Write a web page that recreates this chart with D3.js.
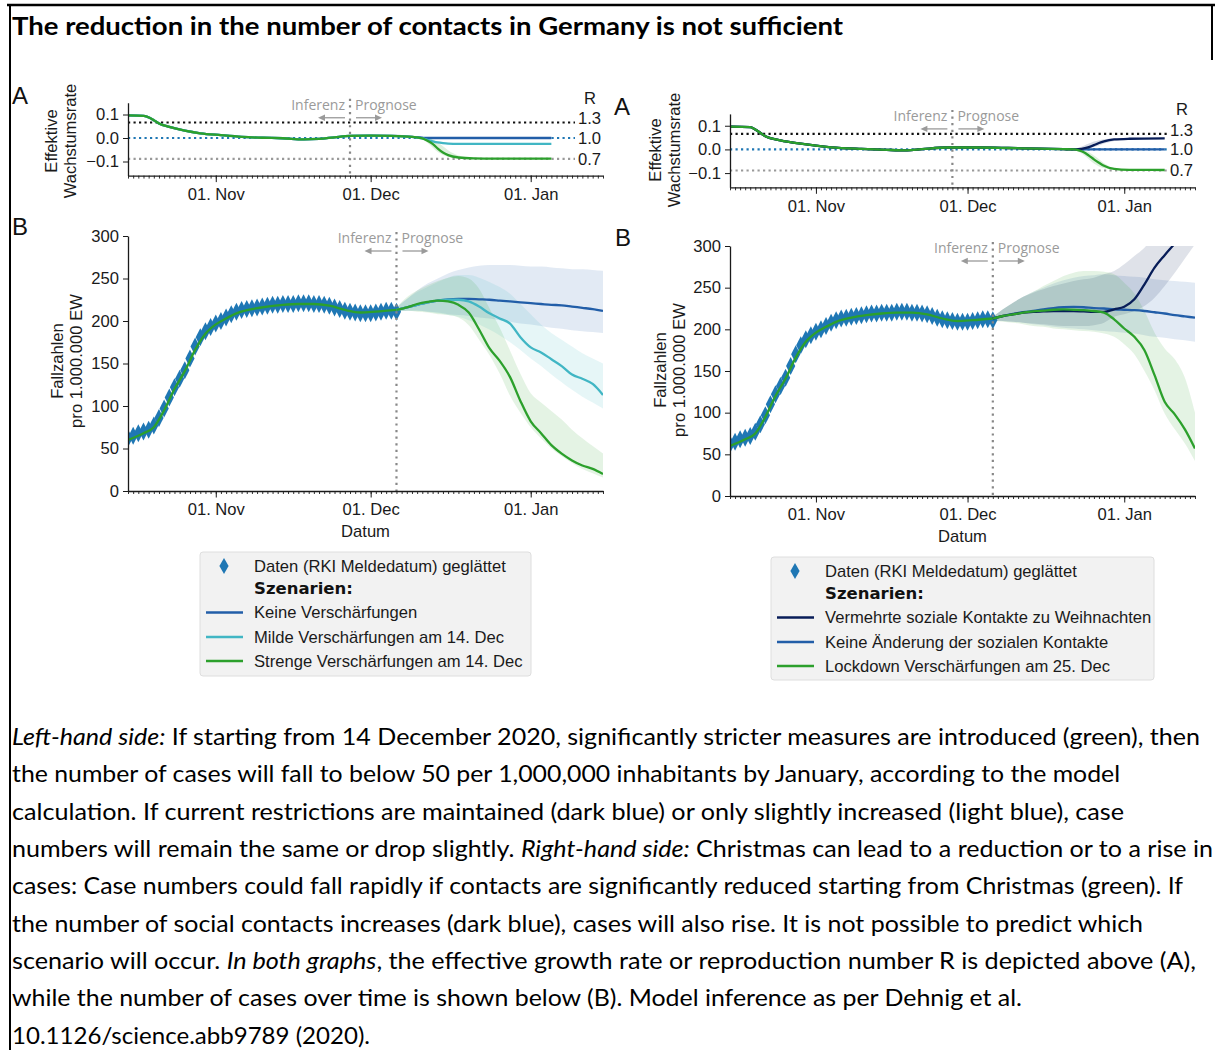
<!DOCTYPE html>
<html>
<head>
<meta charset="utf-8">
<title>Kontaktreduktion Szenarien</title>
<script src="https://cdn.jsdelivr.net/npm/d3@7"></script>
<style>
  body { margin: 0; background: #fff; }
  svg { display: block; }
</style>
</head>
<body>
<svg id="figure" width="1215" height="1050"></svg>
<script>
const svg = d3.select("#figure");
const parseDate = d3.utcParse("%Y-%m-%d");
const formatTick = d3.utcFormat("%d. %b");

// ---------- data ----------
const axisStart = "2020-10-15";
const axisEnd = "2021-01-15";

// RKI cases per 1,000,000 (smoothed), one value per day from 15 Oct to 6 Dec
const rkiStart = "2020-10-15";
const rkiCases = [62, 65, 68, 70, 72, 77, 86, 97, 110, 122, 132, 142, 156, 170, 181, 188, 193, 197, 200, 204,
  208, 211, 213, 214, 215, 216, 217, 218, 219, 219, 220, 220, 220, 221, 221, 221, 220, 220, 219, 218,
  216, 214, 212, 211, 210, 209, 209, 209, 210, 211, 212, 212, 211];

// model fit in the inference period
const fitDates = ["2020-10-15", "2020-10-18", "2020-10-20", "2020-10-22", "2020-10-24", "2020-10-26", "2020-10-28",
  "2020-10-30", "2020-11-01", "2020-11-03", "2020-11-05", "2020-11-08", "2020-11-11", "2020-11-14", "2020-11-17",
  "2020-11-20", "2020-11-23", "2020-11-26", "2020-11-29", "2020-12-02", "2020-12-06"];
const fitCases = [60, 68, 75, 95, 120, 141, 166, 185, 196, 203, 209, 214, 217, 219, 220, 220, 218, 213, 210, 211, 213];

// forecast grid (every 2 days from 6 Dec)
const fcDates = ["2020-12-06", "2020-12-08", "2020-12-10", "2020-12-12", "2020-12-14", "2020-12-16", "2020-12-18",
  "2020-12-20", "2020-12-22", "2020-12-24", "2020-12-26", "2020-12-28", "2020-12-30", "2021-01-01", "2021-01-03",
  "2021-01-05", "2021-01-07", "2021-01-09", "2021-01-11", "2021-01-13", "2021-01-15"];

// left: Keine / Milde / Strenge Verschärfungen
const keineL   = [213, 216, 219, 222, 224, 225.5, 226, 226, 225.5, 225, 224, 223, 222, 221, 220, 219, 218.5, 217, 215.5, 214, 212];
const keineLHi = [216, 226, 236, 244, 250, 256, 260, 263, 265, 266, 266, 266, 265, 264, 264, 263, 262, 261, 261, 260, 259];
const keineLLo = [211, 212, 212, 211, 210, 208, 207, 206, 204, 203, 201, 199, 197, 196, 194, 192, 191, 189, 188, 187, 186];
const mildeL   = [213, 216, 219, 222, 224, 225, 225, 223, 217, 209, 203, 197, 181, 169, 163, 155, 147, 137, 132, 126, 113];
const mildeLHi = [216, 226, 234, 240, 246, 251, 254, 254, 251, 246, 240, 232, 220, 208, 196, 186, 178, 170, 162, 156, 150];
const mildeLLo = [211, 212, 212, 211, 209, 207, 205, 201, 196, 190, 183, 175, 166, 156, 147, 137, 128, 119, 111, 104, 97];
const strengL   = [213, 216, 220, 222.5, 224, 223, 219, 210, 190, 168, 153, 134, 106, 82, 68, 54, 44, 36, 30, 26, 20];
const strengLHi = [216, 228, 236, 242, 247, 251, 253, 250, 238, 215, 192, 165, 138, 115, 104, 94, 84, 72, 62, 53, 44];
const strengLLo = [211, 212, 211, 210, 208, 207, 204, 195, 178, 160, 138, 112, 92, 75, 62, 50, 41, 33, 26, 21, 16];

// right: Vermehrte Kontakte / Keine Änderung / Lockdown
const keineR   = [213, 216, 218.5, 220.5, 222, 224, 225.5, 226.5, 227, 226.5, 225.5, 225, 224, 223.5, 223, 222, 220.5, 219, 217, 215.5, 214];
const keineRHi = [215, 224, 232, 239, 245, 250, 255, 259, 262, 264, 265, 266, 265, 264, 263, 262, 260, 259, 258, 257, 256];
const keineRLo = [211, 210, 209, 208, 206, 205, 203, 202, 201, 200, 199, 198, 197, 196, 195, 193, 191, 190, 188, 187, 185];
const moreR   = [213, 216, 218, 220, 221, 221.5, 222, 222, 222, 221.5, 221, 221, 224, 227, 236, 254, 274, 289, 303, 318, 333];
const moreRHi = [215, 224, 232, 239, 244, 248, 252, 255, 258, 260, 262, 266, 270, 278, 288, 298, 312, 330, 350, 370, 390];
const moreRLo = [211, 210, 209, 208, 207, 206, 205, 204, 204, 204, 205, 208, 215, 218, 222, 228, 238, 252, 268, 285, 302];
const lockR   = [213, 216, 218, 220, 221.5, 222.5, 223.5, 224, 223.5, 223, 222, 220, 212, 201, 191, 175, 145, 113, 98, 80, 57];
const lockRHi = [215, 224, 232, 239, 245, 252, 258, 264, 268, 270, 270, 269, 266, 256, 243, 222, 196, 177, 164, 142, 100];
const lockRLo = [211, 209, 208, 206, 204, 203, 201, 200, 199, 198, 197, 195, 191, 182, 170, 150, 127, 99, 80, 63, 42];

// effective growth rate, left panel
const rateDatesL = ["2020-10-15", "2020-10-18", "2020-10-20", "2020-10-21", "2020-10-23", "2020-10-26", "2020-10-29",
  "2020-11-02", "2020-11-06", "2020-11-10", "2020-11-14", "2020-11-18", "2020-11-21", "2020-11-24", "2020-11-27",
  "2020-12-01", "2020-12-05", "2020-12-09", "2020-12-11", "2020-12-12", "2020-12-13", "2020-12-14", "2020-12-15",
  "2020-12-16", "2020-12-18", "2020-12-21", "2020-12-25", "2020-12-30", "2021-01-05"];
const rateKeineL = [0.096, 0.094, 0.076, 0.062, 0.047, 0.031, 0.02, 0.012, 0.005, 0.001, -0.001, -0.006, -0.004, 0.003, 0.009,
  0.01, 0.009, 0.005, 0.001, 0, 0, 0, 0, 0, 0, 0, 0, 0, 0];
const rateMildeL = [0.096, 0.094, 0.076, 0.062, 0.047, 0.031, 0.02, 0.012, 0.005, 0.001, -0.001, -0.006, -0.004, 0.003, 0.009,
  0.01, 0.009, 0.005, -0.002, -0.008, -0.014, -0.019, -0.022, -0.024, -0.025, -0.025, -0.025, -0.025, -0.025];
const rateStrengL = [0.096, 0.094, 0.076, 0.062, 0.047, 0.031, 0.02, 0.012, 0.005, 0.001, -0.001, -0.006, -0.004, 0.003, 0.009,
  0.01, 0.009, 0.005, -0.002, -0.012, -0.025, -0.045, -0.062, -0.073, -0.083, -0.087, -0.088, -0.088, -0.088];
const rateStrengLHi = [0.1, 0.098, 0.084, 0.068, 0.051, 0.034, 0.022, 0.013, 0.006, 0.002, 0, -0.005, -0.003, 0.004, 0.01,
  0.011, 0.01, 0.007, 0.003, 0, -0.006, -0.018, -0.035, -0.052, -0.074, -0.085, -0.087, -0.087, -0.087];
const rateStrengLLo = [0.092, 0.09, 0.068, 0.056, 0.043, 0.028, 0.018, 0.011, 0.004, 0, -0.002, -0.007, -0.005, 0.002, 0.008,
  0.009, 0.008, 0.003, -0.005, -0.02, -0.04, -0.06, -0.072, -0.08, -0.086, -0.089, -0.089, -0.089, -0.089];

// effective growth rate, right panel
const rateDatesR = ["2020-10-15", "2020-10-19", "2020-10-20", "2020-10-22", "2020-10-25", "2020-10-29", "2020-11-04",
  "2020-11-10", "2020-11-15", "2020-11-19", "2020-11-22", "2020-11-27", "2020-12-03", "2020-12-09", "2020-12-15",
  "2020-12-20", "2020-12-22", "2020-12-23", "2020-12-24", "2020-12-25", "2020-12-26", "2020-12-27", "2020-12-28",
  "2020-12-30", "2021-01-02", "2021-01-09"];
const rateKeineR = [0.096, 0.094, 0.084, 0.056, 0.038, 0.024, 0.009, 0.002, -0.002, -0.004, 0.001, 0.008, 0.008, 0.006, 0.003,
  0.001, 0, 0, 0, 0, 0, 0, 0, 0, 0, 0];
const rateMoreR = [0.096, 0.094, 0.084, 0.056, 0.038, 0.024, 0.009, 0.002, -0.002, -0.004, 0.001, 0.008, 0.008, 0.006, 0.003,
  0.001, 0, 0.001, 0.004, 0.01, 0.018, 0.027, 0.034, 0.042, 0.045, 0.047];
const rateMoreRHi = [0.1, 0.098, 0.09, 0.062, 0.042, 0.027, 0.011, 0.004, 0, -0.002, 0.003, 0.01, 0.01, 0.008, 0.005,
  0.003, 0.003, 0.008, 0.016, 0.025, 0.033, 0.039, 0.043, 0.046, 0.048, 0.049];
const rateMoreRLo = [0.092, 0.09, 0.078, 0.05, 0.034, 0.021, 0.007, 0, -0.004, -0.006, -0.001, 0.006, 0.006, 0.004, 0.001,
  -0.001, -0.002, -0.002, 0, 0.004, 0.01, 0.017, 0.025, 0.036, 0.043, 0.045];
const rateLockR = [0.096, 0.094, 0.084, 0.056, 0.038, 0.024, 0.009, 0.002, -0.002, -0.004, 0.001, 0.008, 0.008, 0.006, 0.003,
  0.001, 0, -0.004, -0.012, -0.026, -0.042, -0.056, -0.069, -0.082, -0.086, -0.087];
const rateLockRHi = [0.1, 0.098, 0.09, 0.062, 0.042, 0.027, 0.011, 0.004, 0, -0.002, 0.003, 0.01, 0.01, 0.008, 0.005,
  0.003, 0.002, 0, -0.004, -0.012, -0.026, -0.042, -0.058, -0.078, -0.085, -0.086];
const rateLockRLo = [0.092, 0.09, 0.078, 0.05, 0.034, 0.021, 0.007, 0, -0.004, -0.006, -0.001, 0.006, 0.006, 0.004, 0.001,
  -0.001, -0.003, -0.01, -0.024, -0.042, -0.06, -0.072, -0.08, -0.086, -0.088, -0.088];

// reference R values and their growth rates
const rLabels = ["1.3", "1.0", "0.7"];
const rRates = [0.066, 0.0, -0.089];

const rateTicks = [-0.1, 0, 0.1];
const caseTicks = [0, 50, 100, 150, 200, 250, 300];

const legendLeft = ["Keine Verschärfungen", "Milde Verschärfungen am 14. Dec", "Strenge Verschärfungen am 14. Dec"];
const legendRight = ["Vermehrte soziale Kontakte zu Weihnachten", "Keine Änderung der sozialen Kontakte", "Lockdown Verschärfungen am 25. Dec"];

const titleText = "The reduction in the number of contacts in Germany is not sufficient";
const captionLines = [
  [["Left-hand side:", true], [" If starting from 14 December 2020, significantly stricter measures are introduced (green), then", false]],
  [["the number of cases will fall to below 50 per 1,000,000 inhabitants by January, according to the model", false]],
  [["calculation. If current restrictions are maintained (dark blue) or only slightly increased (light blue), case", false]],
  [["numbers will remain the same or drop slightly. ", false], ["Right-hand side:", true], [" Christmas can lead to a reduction or to a rise in", false]],
  [["cases: Case numbers could fall rapidly if contacts are significantly reduced starting from Christmas (green). If", false]],
  [["the number of social contacts increases (dark blue), cases will also rise. It is not possible to predict which", false]],
  [["scenario will occur. ", false], ["In both graphs", true], [", the effective growth rate or reproduction number R is depicted above (A),", false]],
  [["while the number of cases over time is shown below (B). Model inference as per Dehnig et al.", false]],
  [["10.1126/science.abb9789 (2020).", false]]
];

// ---------- styles / layout ----------
const AXIS_FONT = "'Liberation Sans', Arial, Helvetica, sans-serif";
const AXIS_SIZE = 16.6;
const NOTE_FONT = "'Open Sans', 'DejaVu Sans', sans-serif";
const TEXT_FONT = "Lato, 'Noto Sans', sans-serif";
const C = { data: "#1f77b4", keine: "#225ea8", milde: "#41b6c4", navy: "#081d58", green: "#2ca02c" };
const BAND_OPACITY = 0.13;
const DIA_W = 4.6, DIA_H = 9;
const R_LABEL_SHIFT = [-4, 0, 0];   // vertical nudge of the R labels, px
const captionWidths = [1188, 1108, 1112, 1201, 1171, 1131, 1184, 1010, 358];

const zip = (dates, values) => dates.map((d, i) => ({ date: parseDate(d), v: values[i] }));
const zipBand = (dates, hi, lo) => dates.map((d, i) => ({ date: parseDate(d), hi: hi[i], lo: lo[i] }));
const rkiSeries = rkiCases.map((v, i) => ({ date: d3.utcDay.offset(parseDate(rkiStart), i), v }));
const fitSeries = zip(fitDates, fitCases);

svg.append("rect").attr("width", 1215).attr("height", 1050).attr("fill", "#fff");

// frame
svg.append("line").attr("x1", 7).attr("x2", 1215).attr("y1", 5).attr("y2", 5).attr("stroke", "#000").attr("stroke-width", 2.5);
svg.append("line").attr("x1", 10).attr("x2", 10).attr("y1", 4).attr("y2", 1050).attr("stroke", "#000").attr("stroke-width", 2);
svg.append("line").attr("x1", 1212).attr("x2", 1212).attr("y1", 4).attr("y2", 60).attr("stroke", "#000").attr("stroke-width", 2);

svg.append("text")
    .attr("x", 12).attr("y", 35)
    .attr("font-family", TEXT_FONT).attr("font-weight", "bold").attr("font-size", 25)
    .attr("textLength", 831).attr("lengthAdjust", "spacingAndGlyphs")
    .text(titleText);

function makeX(p) {
  return d3.scaleUtc().domain([parseDate(axisStart), parseDate(axisEnd)]).range([p.x0, p.x1]);
}

function styleAxis(a) {
  a.attr("font-family", AXIS_FONT).attr("font-size", AXIS_SIZE);
  a.selectAll("text").attr("fill", "#1a1a1a");
  a.selectAll("line").attr("stroke", "#1a1a1a");
  a.select(".domain").attr("stroke", "#1a1a1a").attr("stroke-width", 1.3);
}

function drawXAxis(g, x, yPos) {
  const [d0, d1] = x.domain();
  g.append("g").attr("transform", `translate(0,${yPos})`)
      .call(d3.axisBottom(x).tickValues(d3.utcDay.range(d0, d3.utcDay.offset(d1, 1))).tickSize(3).tickFormat(""))
      .call(a => a.select(".domain").remove())
      .call(a => a.selectAll("line").attr("stroke", "#1a1a1a").attr("stroke-width", 0.9));
  g.append("g").attr("transform", `translate(0,${yPos})`)
      .call(d3.axisBottom(x).ticks(d3.utcMonth.every(1)).tickSize(6.5).tickPadding(6).tickSizeOuter(0).tickFormat(formatTick))
      .call(styleAxis);
}

function drawYAxis(g, y, xPos, ticks, fmt) {
  g.append("g").attr("transform", `translate(${xPos},0)`)
      .call(d3.axisLeft(y).tickValues(ticks).tickSize(5).tickPadding(4).tickSizeOuter(0).tickFormat(fmt))
      .call(styleAxis);
}

function yLabel(lines, cx, cy) {
  lines.forEach((t, i) => {
    svg.append("text")
        .attr("transform", `translate(${cx + i * 19},${cy}) rotate(-90)`)
        .attr("text-anchor", "middle").attr("dy", "0.35em")
        .attr("font-family", AXIS_FONT).attr("font-size", AXIS_SIZE).attr("fill", "#1a1a1a")
        .text(t);
  });
}

function panelLetter(t, x, y) {
  svg.append("text").attr("x", x).attr("y", y)
      .attr("font-family", AXIS_FONT).attr("font-size", 24).attr("fill", "#111").text(t);
}

function divider(g, x, p, date) {
  const xd = x(parseDate(date));
  g.append("line").attr("x1", xd).attr("x2", xd).attr("y1", p.yTop - 4).attr("y2", p.yBot)
      .attr("stroke", "#888").attr("stroke-width", 2.2).attr("stroke-dasharray", "2.2,4.4");
  const ty = p.yTop + 7;
  g.append("text").attr("x", xd - 5).attr("y", ty).attr("text-anchor", "end")
      .attr("font-family", NOTE_FONT).attr("font-size", 14).attr("fill", "#9a9a9a").text("Inferenz");
  g.append("text").attr("x", xd + 5).attr("y", ty).attr("text-anchor", "start")
      .attr("font-family", NOTE_FONT).attr("font-size", 14).attr("fill", "#9a9a9a").text("Prognose");
  const ay = p.yTop + 15;
  [[xd - 5, xd - 32], [xd + 6, xd + 32]].forEach(([a, b]) => {
    const s = Math.sign(b - a);
    g.append("line").attr("x1", a).attr("x2", b - s * 5).attr("y1", ay).attr("y2", ay)
        .attr("stroke", "#9a9a9a").attr("stroke-width", 1.3);
    g.append("path").attr("d", `M${b},${ay}L${b - s * 7},${ay - 3.2}L${b - s * 7},${ay + 3.2}Z`).attr("fill", "#9a9a9a");
  });
}

function drawRatePanel(p) {
  const g = svg.append("g");
  const x = makeX(p);
  const y = d3.scaleLinear().domain([-0.16, 0.15]).range([p.yBot, p.yTop]);
  const refEnd = p.x1 - 28;
  const refColors = ["#111", C.data, "#999"];
  rRates.forEach((r, i) => {
    g.append("line").attr("x1", p.x0).attr("x2", refEnd).attr("y1", y(r)).attr("y2", y(r))
        .attr("stroke", refColors[i]).attr("stroke-width", 2.2).attr("stroke-dasharray", "2.2,3.3");
    g.append("text").attr("x", refEnd + 3).attr("y", y(r) + R_LABEL_SHIFT[i]).attr("dy", "0.36em")
        .attr("font-family", AXIS_FONT).attr("font-size", AXIS_SIZE).attr("fill", "#1a1a1a").text(rLabels[i]);
  });
  g.append("text").attr("x", refEnd + 15).attr("y", p.yTop + 1).attr("text-anchor", "middle")
      .attr("font-family", AXIS_FONT).attr("font-size", AXIS_SIZE).attr("fill", "#1a1a1a").text("R");

  const area = d3.area().x(d => x(d.date)).y0(d => y(d.lo)).y1(d => y(d.hi)).curve(d3.curveMonotoneX);
  const line = d3.line().x(d => x(d.date)).y(d => y(d.v)).curve(d3.curveMonotoneX);
  p.bands.forEach(b => g.append("path").datum(zipBand(p.dates, b.hi, b.lo)).attr("d", area)
      .attr("fill", b.color).attr("fill-opacity", 0.16));
  p.lines.forEach(l => g.append("path").datum(zip(p.dates, l.values)).attr("d", line)
      .attr("fill", "none").attr("stroke", l.color).attr("stroke-width", 2.3));

  divider(g, x, p, p.divider);
  drawXAxis(g, x, p.yBot);
  drawYAxis(g, y, p.x0, rateTicks, d3.format(".1f"));
}

function drawCasePanel(p) {
  const g = svg.append("g");
  const x = makeX(p);
  const y = d3.scaleLinear().domain([0, 300]).range([p.yBot, p.yTop]);
  const clipId = "clip-" + p.id;
  svg.append("clipPath").attr("id", clipId).append("rect")
      .attr("x", p.x0).attr("y", p.yTop).attr("width", p.x1 - p.x0).attr("height", p.yBot - p.yTop);
  const plot = g.append("g").attr("clip-path", `url(#${clipId})`);

  const area = d3.area().x(d => x(d.date)).y0(d => y(d.lo)).y1(d => y(d.hi)).curve(d3.curveMonotoneX);
  const line = d3.line().x(d => x(d.date)).y(d => y(d.v)).curve(d3.curveMonotoneX);
  p.bands.forEach(b => plot.append("path").datum(zipBand(fcDates, b.hi, b.lo)).attr("d", area)
      .attr("fill", b.color).attr("fill-opacity", BAND_OPACITY));

  const diamond = `M0,${-DIA_H}L${DIA_W},0L0,${DIA_H}L${-DIA_W},0Z`;
  plot.append("g").selectAll("path").data(rkiSeries).join("path")
      .attr("d", diamond)
      .attr("transform", d => `translate(${x(d.date)},${y(d.v)})`)
      .attr("fill", C.data);

  plot.append("path").datum(fitSeries).attr("d", line)
      .attr("fill", "none").attr("stroke", C.green).attr("stroke-width", 2.3);
  p.lines.forEach(l => plot.append("path").datum(zip(fcDates, l.values)).attr("d", line)
      .attr("fill", "none").attr("stroke", l.color).attr("stroke-width", 2.3));

  divider(g, x, p, p.divider);
  drawXAxis(g, x, p.yBot);
  drawYAxis(g, y, p.x0, caseTicks, d3.format("d"));
  g.append("text").attr("x", (p.x0 + p.x1) / 2).attr("y", p.yBot + 46).attr("text-anchor", "middle")
      .attr("font-family", AXIS_FONT).attr("font-size", AXIS_SIZE).attr("fill", "#1a1a1a").text("Datum");
}

function drawLegend(box, labels, colors) {
  const g = svg.append("g").attr("transform", `translate(${box.x},${box.y})`);
  g.append("rect").attr("width", box.w).attr("height", box.h).attr("rx", 3)
      .attr("fill", "#f2f2f2").attr("stroke", "#dedede");
  const rows = [14, 36.5, 60.5, 85, 109];
  g.append("path").attr("d", `M0,${-8}L4.6,0L0,8L-4.6,0Z`).attr("transform", `translate(24,${rows[0]})`).attr("fill", C.data);
  g.append("text").attr("x", 54).attr("y", rows[0]).attr("dy", "0.35em")
      .attr("font-family", AXIS_FONT).attr("font-size", AXIS_SIZE).attr("fill", "#1a1a1a").text("Daten (RKI Meldedatum) geglättet");
  g.append("text").attr("x", 54).attr("y", rows[1]).attr("dy", "0.35em")
      .attr("font-family", "'DejaVu Sans', sans-serif").attr("font-weight", "bold").attr("font-size", 16.5)
      .attr("fill", "#111").text("Szenarien:");
  labels.forEach((t, i) => {
    const ry = rows[i + 2];
    g.append("line").attr("x1", 6).attr("x2", 43).attr("y1", ry).attr("y2", ry)
        .attr("stroke", colors[i]).attr("stroke-width", 2.3);
    g.append("text").attr("x", 54).attr("y", ry).attr("dy", "0.35em")
        .attr("font-family", AXIS_FONT).attr("font-size", AXIS_SIZE).attr("fill", "#1a1a1a").text(t);
  });
}

// ---------- panels ----------
drawRatePanel({
  x0: 128, x1: 603, yTop: 102.75, yBot: 175.6, divider: "2020-11-27", dates: rateDatesL,
  bands: [{ hi: rateStrengLHi, lo: rateStrengLLo, color: C.green }],
  lines: [{ values: rateKeineL, color: C.keine }, { values: rateMildeL, color: C.milde }, { values: rateStrengL, color: C.green }]
});
drawRatePanel({
  x0: 730, x1: 1195, yTop: 113.9, yBot: 187.3, divider: "2020-11-28", dates: rateDatesR,
  bands: [{ hi: rateMoreRHi, lo: rateMoreRLo, color: C.navy }, { hi: rateLockRHi, lo: rateLockRLo, color: C.green }],
  lines: [{ values: rateKeineR, color: C.keine }, { values: rateMoreR, color: C.navy }, { values: rateLockR, color: C.green }]
});

drawCasePanel({
  id: "lb", x0: 128, x1: 603, yTop: 236, yBot: 491, divider: "2020-12-06",
  bands: [{ hi: keineLHi, lo: keineLLo, color: C.keine }, { hi: mildeLHi, lo: mildeLLo, color: C.milde }, { hi: strengLHi, lo: strengLLo, color: C.green }],
  lines: [{ values: keineL, color: C.keine }, { values: mildeL, color: C.milde }, { values: strengL, color: C.green }]
});
drawCasePanel({
  id: "rb", x0: 730, x1: 1195, yTop: 246, yBot: 496, divider: "2020-12-06",
  bands: [{ hi: keineRHi, lo: keineRLo, color: C.keine }, { hi: moreRHi, lo: moreRLo, color: C.navy }, { hi: lockRHi, lo: lockRLo, color: C.green }],
  lines: [{ values: keineR, color: C.keine }, { values: moreR, color: C.navy }, { values: lockR, color: C.green }]
});

panelLetter("A", 12, 104);
panelLetter("B", 12, 235);
panelLetter("A", 614, 115);
panelLetter("B", 615, 246);

yLabel(["Effektive", "Wachstumsrate"], 51, 141);
yLabel(["Fallzahlen", "pro 1.000.000 EW"], 57, 361);
yLabel(["Effektive", "Wachstumsrate"], 655, 150);
yLabel(["Fallzahlen", "pro 1.000.000 EW"], 660, 370);

drawLegend({ x: 200, y: 552, w: 331, h: 124 }, legendLeft, [C.keine, C.milde, C.green]);
drawLegend({ x: 771, y: 557, w: 383, h: 123 }, legendRight, [C.navy, C.keine, C.green]);

// ---------- caption ----------
captionLines.forEach((segs, i) => {
  const t = svg.append("text")
      .attr("x", 12).attr("y", 745 + i * 37.35)
      .attr("font-family", TEXT_FONT).attr("font-size", 24).attr("fill", "#000")
      .attr("textLength", captionWidths[i]).attr("lengthAdjust", "spacingAndGlyphs")
      .style("white-space", "pre");
  segs.forEach(([s, it]) => t.append("tspan").attr("font-style", it ? "italic" : "normal").text(s));
});
</script>
</body>
</html>
